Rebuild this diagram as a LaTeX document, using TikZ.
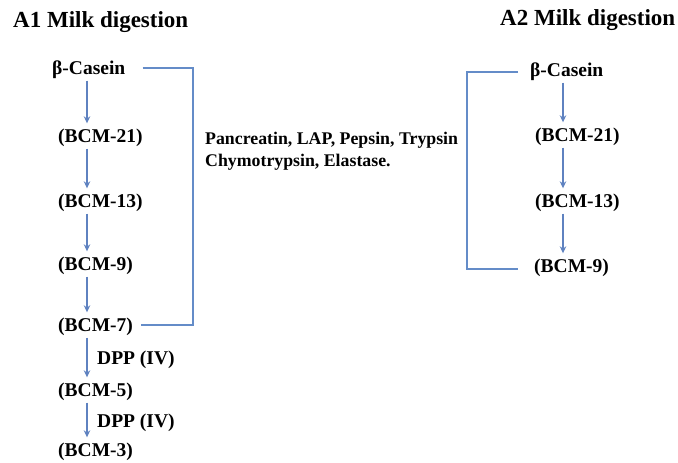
\documentclass[tikz,border=0pt]{standalone}
\usepackage{fontspec}
\setmainfont{Liberation Serif}
\usetikzlibrary{arrows.meta,calc}
\definecolor{arrcol}{RGB}{95,130,192}
\definecolor{brkcol}{RGB}{100,140,200}
\begin{document}
\begin{tikzpicture}[x=1pt,y=-1pt,
  lab/.style={font=\bfseries\fontsize{19.5}{22}\selectfont, anchor=west, inner sep=0pt, text height=14pt, text depth=5pt},
  ttl/.style={font=\bfseries\fontsize{23}{26}\selectfont, anchor=west, inner sep=0pt},
  enz/.style={font=\bfseries\fontsize{17.8}{22}\selectfont, anchor=west, inner sep=0pt, align=left},
  arr/.style={draw=arrcol, line width=1.6pt, -{Stealth[length=7pt,width=6.5pt]}, shorten <=1pt, shorten >=5pt},
  brk/.style={draw=brkcol, line width=2pt}]
\useasboundingbox (0,0) rectangle (678,463);
% titles
\node[ttl] (t1) at (13,22) {A1 Milk digestion};
\node[ttl] (t2) at (500,20) {A2 Milk digestion};
% A1 column
\node[lab] (a1cas) at (52,70) {β-Casein};
\node[lab] (a1b21) at (58,138) {(BCM-21)};
\node[lab] (a1b13) at (58,203) {(BCM-13)};
\node[lab] (a1b9) at (58,266) {(BCM-9)};
\node[lab] (a1b7) at (58,327) {(BCM-7)};
\node[lab] (a1b5) at (58,392) {(BCM-5)};
\node[lab] (a1b3) at (58,452) {(BCM-3)};
\coordinate (ax1) at (87,0);
\draw[arr] (a1cas.south -| ax1) -- (a1b21.north -| ax1);
\draw[arr] (a1b21.south -| ax1) -- (a1b13.north -| ax1);
\draw[arr] (a1b13.south -| ax1) -- (a1b9.north -| ax1);
\draw[arr] (a1b9.south -| ax1) -- (a1b7.north -| ax1);
\draw[arr] (a1b7.south -| ax1) -- (a1b5.north -| ax1);
\draw[arr] (a1b5.south -| ax1) -- (a1b3.north -| ax1);
\node[lab] (dpp1) at (97,360) {DPP (IV)};
\node[lab] (dpp2) at (97,423) {DPP (IV)};
% A1 bracket
\coordinate (bx1) at (193,0);
\coordinate (p1) at ([xshift=17pt,yshift=2pt]a1cas.east);
\coordinate (p2) at ([xshift=8pt,yshift=2pt]a1b7.east);
\draw[brk] (p1) -- (p1 -| bx1) -- (p2 -| bx1) -- (p2);
% enzymes
\node[enz] (enz) at (205,151) {Pancreatin, LAP, Pepsin, Trypsin\\Chymotrypsin, Elastase.};
% A2 column
\node[lab] (a2cas) at (530,72) {β-Casein};
\node[lab] (a2b21) at (535,137) {(BCM-21)};
\node[lab] (a2b13) at (535,203) {(BCM-13)};
\node[lab] (a2b9) at (534,268) {(BCM-9)};
\coordinate (ax2) at (563,0);
\draw[arr] (a2cas.south -| ax2) -- (a2b21.north -| ax2);
\draw[arr] (a2b21.south -| ax2) -- (a2b13.north -| ax2);
\draw[arr] (a2b13.south -| ax2) -- (a2b9.north -| ax2);
% A2 bracket
\coordinate (bx2) at (467,0);
\coordinate (q1) at ([xshift=-12pt]a2cas.west);
\coordinate (q2) at ([xshift=-16pt,yshift=-1pt]a2b9.west);
\draw[brk] (q1) -- (q1 -| bx2) -- (q2 -| bx2) -- (q2);
\end{tikzpicture}
\end{document}
